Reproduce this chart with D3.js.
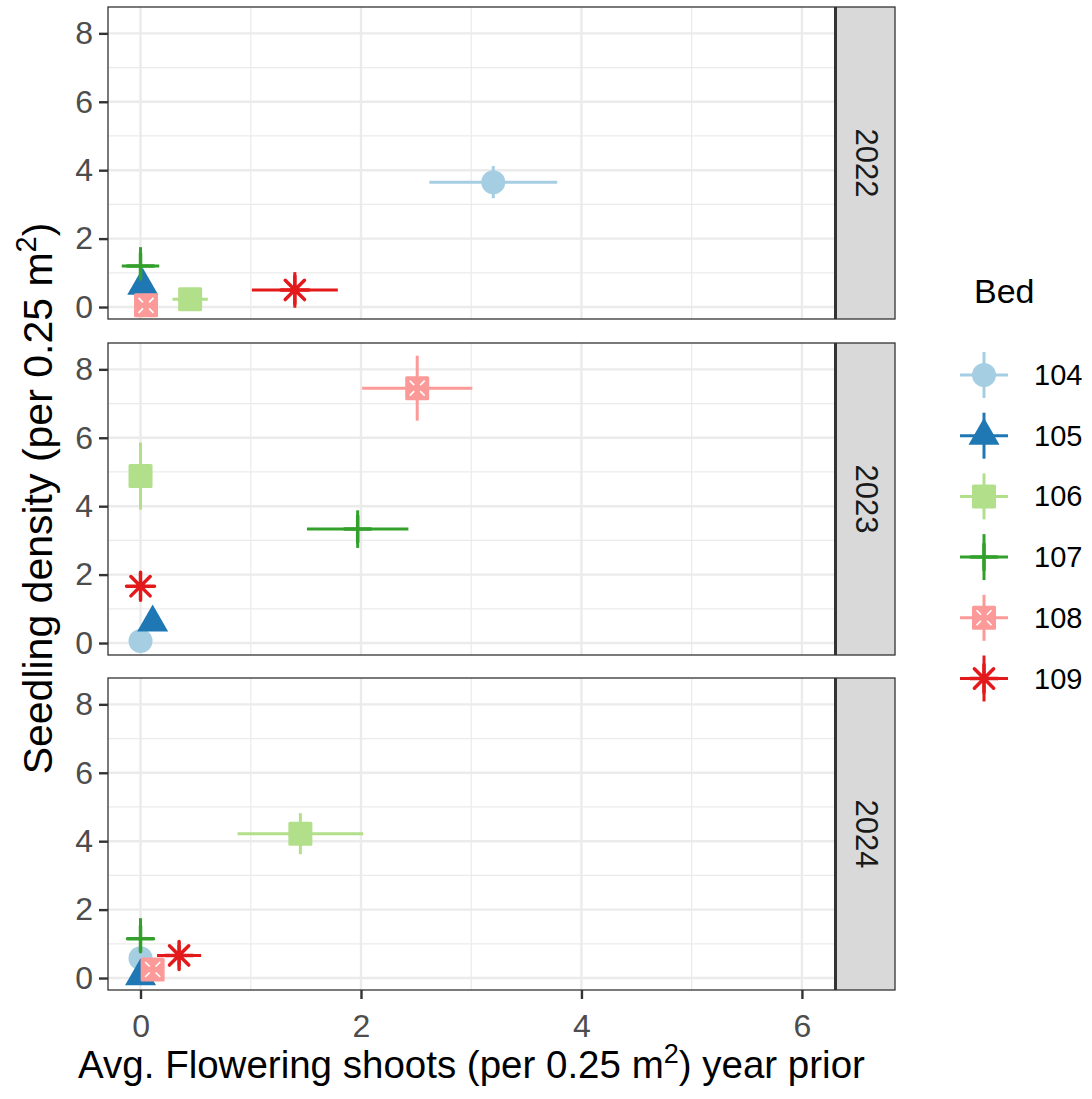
<!DOCTYPE html>
<html>
<head>
<meta charset="utf-8">
<script src="https://cdn.jsdelivr.net/npm/d3@7"></script>
<style>
  html, body { margin: 0; padding: 0; background: #fff; }
  svg { display: block; font-family: "Liberation Sans", Arial, Helvetica, sans-serif; }
</style>
</head>
<body>
<svg id="chart" width="1092" height="1099"></svg>
<script>
// Facet years (one panel each)
const years = ["2022", "2023", "2024"];
// Beds (legend entries)
const beds = ["104", "105", "106", "107", "108", "109"];
const bedColors = ["#A6CEE3", "#1F78B4", "#B2DF8A", "#33A02C", "#FB9A99", "#E31A1C"];
const bedShapes = ["circle", "triangle", "square", "plus", "squarecross", "asterisk"];

// Mean flowering shoots the year before (x), by year, in bed order
const shoots2022 = [3.20, 0.02, 0.45, 0.00, 0.05, 1.40];
const shoots2023 = [0.00, 0.11, 0.00, 1.97, 2.51, 0.00];
const shoots2024 = [0.00, 0.00, 1.45, 0.00, 0.11, 0.35];
// Standard error of flowering shoots
const shootsSE2022 = [0.58, 0.05, 0.16, 0.17, 0.05, 0.39];
const shootsSE2023 = [0.00, 0.05, 0.00, 0.46, 0.50, 0.00];
const shootsSE2024 = [0.00, 0.00, 0.57, 0.00, 0.05, 0.20];
// Mean seedling density (y)
const seedlings2022 = [3.65, 0.62, 0.23, 1.20, 0.05, 0.50];
const seedlings2023 = [0.06, 0.60, 4.88, 3.33, 7.45, 1.66];
const seedlings2024 = [0.58, 0.05, 4.22, 1.15, 0.25, 0.66];
// Standard error of seedling density
const seedlingsSE2022 = [0.47, 0.10, 0.05, 0.55, 0.10, 0.52];
const seedlingsSE2023 = [0.05, 0.10, 0.98, 0.55, 0.95, 0.30];
const seedlingsSE2024 = [0.20, 0.05, 0.60, 0.60, 0.15, 0.30];

// Axis ticks
const xTicks = [0, 2, 4, 6];
const yTicks = [0, 2, 4, 6, 8];
const xMinor = [1, 3, 5];
const yMinor = [1, 3, 5, 7];

const xs = [shoots2022, shoots2023, shoots2024];
const xse = [shootsSE2022, shootsSE2023, shootsSE2024];
const ys = [seedlings2022, seedlings2023, seedlings2024];
const yse = [seedlingsSE2022, seedlingsSE2023, seedlingsSE2024];

const rows = [];
years.forEach((yr, i) => beds.forEach((b, j) => rows.push({
  year: yr, bed: b, x: xs[i][j], xe: xse[i][j], y: ys[i][j], ye: yse[i][j],
  color: bedColors[j], shape: bedShapes[j]
})));

const svg = d3.select("#chart");

// layout
const panelLeft = 108, panelRight = 835, stripRight = 895;
const panelTops = [7, 343, 678];
const panelH = 312;

const x = d3.scaleLinear().domain([-0.295, 6.3]).range([panelLeft, panelRight]);
const yScale = d3.scaleLinear().domain([-0.35, 8.77]).range([panelH, 0]);

const gridColor = "#EBEBEB";
const inkDark = "#333333";
const tickText = "#4D4D4D";
const fontStack = "Liberation Sans, Arial, sans-serif";

// symbol painter shared by panels and legend
function drawSymbol(g, shape, color) {
  const r = 12;
  if (shape === "circle") {
    g.append("circle").attr("r", r).attr("fill", color);
  } else if (shape === "triangle") {
    const h = 27, w = 31;
    g.append("path")
      .attr("d", `M0,${-h * 2 / 3}L${w / 2},${h / 3}L${-w / 2},${h / 3}Z`)
      .attr("fill", color);
  } else if (shape === "square") {
    g.append("rect").attr("x", -r).attr("y", -r).attr("width", 2 * r).attr("height", 2 * r)
      .attr("rx", 1.5).attr("fill", color);
  } else if (shape === "plus") {
    g.append("path").attr("d", `M${-r - 1},0H${r + 1}M0,${-r - 1}V${r + 1}`)
      .attr("stroke", color).attr("stroke-width", 3.5).attr("stroke-linecap", "round").attr("fill", "none");
  } else if (shape === "squarecross") {
    g.append("rect").attr("x", -r).attr("y", -r).attr("width", 2 * r).attr("height", 2 * r)
      .attr("rx", 1.5).attr("fill", color);
    [[1, 1], [1, -1], [-1, 1], [-1, -1]].forEach(([sx, sy]) => {
      g.append("line").attr("x1", sx * 3).attr("y1", sy * 3).attr("x2", sx * 7.5).attr("y2", sy * 7.5)
        .attr("stroke", "#fff").attr("stroke-width", 1.6);
    });
  } else if (shape === "asterisk") {
    const d = r * 0.72;
    g.append("path")
      .attr("d", `M${-r - 2},0H${r + 2}M0,${-r - 2}V${r + 2}M${-d - 1},${-d - 1}L${d + 1},${d + 1}M${-d - 1},${d + 1}L${d + 1},${-d - 1}`)
      .attr("stroke", color).attr("stroke-width", 3.5).attr("stroke-linecap", "round").attr("fill", "none");
  }
}

years.forEach((yr, i) => {
  const top = panelTops[i];
  const g = svg.append("g").attr("transform", `translate(0,${top})`);
  const clipId = "clip" + yr;
  g.append("clipPath").attr("id", clipId).append("rect")
    .attr("x", panelLeft).attr("y", 0).attr("width", panelRight - panelLeft).attr("height", panelH);

  // background + grid
  g.append("rect").attr("x", panelLeft).attr("y", 0).attr("width", panelRight - panelLeft).attr("height", panelH).attr("fill", "#fff");
  const grid = g.append("g").attr("clip-path", `url(#${clipId})`);
  yMinor.forEach(v => grid.append("line").attr("x1", panelLeft).attr("x2", panelRight)
    .attr("y1", yScale(v)).attr("y2", yScale(v)).attr("stroke", gridColor).attr("stroke-width", 1.2));
  xMinor.forEach(v => grid.append("line").attr("y1", 0).attr("y2", panelH)
    .attr("x1", x(v)).attr("x2", x(v)).attr("stroke", gridColor).attr("stroke-width", 1.2));
  yTicks.forEach(v => grid.append("line").attr("x1", panelLeft).attr("x2", panelRight)
    .attr("y1", yScale(v)).attr("y2", yScale(v)).attr("stroke", gridColor).attr("stroke-width", 2.4));
  xTicks.forEach(v => grid.append("line").attr("y1", 0).attr("y2", panelH)
    .attr("x1", x(v)).attr("x2", x(v)).attr("stroke", gridColor).attr("stroke-width", 2.4));

  // data: error bars first, then symbols on top
  const pts = rows.filter(d => d.year === yr);
  const marks = g.append("g").attr("clip-path", `url(#${clipId})`);
  pts.forEach(d => {
    const eb = marks.append("g").attr("stroke", d.color).attr("stroke-width", 3).attr("fill", "none");
    if (d.xe > 0) eb.append("line").attr("x1", x(d.x - d.xe)).attr("x2", x(d.x + d.xe))
      .attr("y1", yScale(d.y)).attr("y2", yScale(d.y));
    if (d.ye > 0) eb.append("line").attr("y1", yScale(d.y - d.ye)).attr("y2", yScale(d.y + d.ye))
      .attr("x1", x(d.x)).attr("x2", x(d.x));
  });
  pts.forEach(d => {
    const s = marks.append("g").attr("transform", `translate(${x(d.x)},${yScale(d.y)})`);
    drawSymbol(s, d.shape, d.color);
  });

  // panel border
  g.append("rect").attr("x", panelLeft).attr("y", 0).attr("width", panelRight - panelLeft).attr("height", panelH)
    .attr("fill", "none").attr("stroke", inkDark).attr("stroke-width", 1.3);

  // strip
  g.append("rect").attr("x", panelRight + 1).attr("y", 0).attr("width", stripRight - panelRight - 1).attr("height", panelH)
    .attr("fill", "#D9D9D9").attr("stroke", inkDark).attr("stroke-width", 1.3);
  g.append("line").attr("x1", panelRight + 0.5).attr("x2", panelRight + 0.5).attr("y1", 0).attr("y2", panelH)
    .attr("stroke", inkDark).attr("stroke-width", 3);
  g.append("text")
    .attr("transform", `translate(${(panelRight + stripRight) / 2 + 1},${panelH / 2}) rotate(90)`)
    .attr("text-anchor", "middle").attr("dominant-baseline", "central")
    .attr("font-size", 31).attr("fill", "#1A1A1A").text(yr);

  // y axis
  const yAxis = d3.axisLeft(yScale).tickValues(yTicks).tickSize(9).tickPadding(6).tickFormat(d3.format("d"));
  const ya = g.append("g").attr("transform", `translate(${panelLeft},0)`).call(yAxis);
  ya.select(".domain").remove();
  ya.selectAll(".tick line").attr("stroke", inkDark).attr("stroke-width", 2.4);
  ya.selectAll(".tick text").attr("font-size", 32).attr("fill", tickText).attr("font-family", fontStack);

  if (i === years.length - 1) {
    const xAxis = d3.axisBottom(x).tickValues(xTicks).tickSize(9).tickPadding(15).tickFormat(d3.format("d"));
    const xa = g.append("g").attr("transform", `translate(0,${panelH})`).call(xAxis);
    xa.select(".domain").remove();
    xa.selectAll(".tick line").attr("stroke", inkDark).attr("stroke-width", 2.4);
    xa.selectAll(".tick text").attr("font-size", 32).attr("fill", tickText).attr("font-family", fontStack);
  }
});

// axis titles
const xt = svg.append("text").attr("x", (panelLeft + panelRight) / 2 + 0).attr("y", 1078)
  .attr("text-anchor", "middle").attr("font-size", 38.5).attr("fill", "#000");
xt.append("tspan").text("Avg. Flowering shoots (per 0.25 m");
xt.append("tspan").attr("font-size", 27).attr("dy", -15).text("2");
xt.append("tspan").attr("dy", 15).text(") year prior");

const yt = svg.append("text")
  .attr("transform", `translate(52,${(panelTops[0] + panelTops[2] + panelH) / 2}) rotate(-90)`)
  .attr("text-anchor", "middle").attr("font-size", 41).attr("fill", "#000");
yt.append("tspan").text("Seedling density (per 0.25 m");
yt.append("tspan").attr("font-size", 29).attr("dy", -16).text("2");
yt.append("tspan").attr("dy", 16).text(")");

// legend
const legend = svg.append("g");
legend.append("text").attr("x", 974).attr("y", 303).attr("font-size", 34).attr("fill", "#000").text("Bed");
beds.forEach((b, j) => {
  const cy = 375 + j * 60.7;
  const k = legend.append("g").attr("transform", `translate(984,${cy})`);
  k.append("line").attr("x1", -24).attr("x2", 24).attr("stroke", bedColors[j]).attr("stroke-width", 3);
  k.append("line").attr("y1", -23).attr("y2", 23).attr("stroke", bedColors[j]).attr("stroke-width", 3);
  drawSymbol(k, bedShapes[j], bedColors[j]);
  legend.append("text").attr("x", 1034).attr("y", cy).attr("dominant-baseline", "central")
    .attr("font-size", 29).attr("fill", "#000").text(b);
});
</script>
</body>
</html>
